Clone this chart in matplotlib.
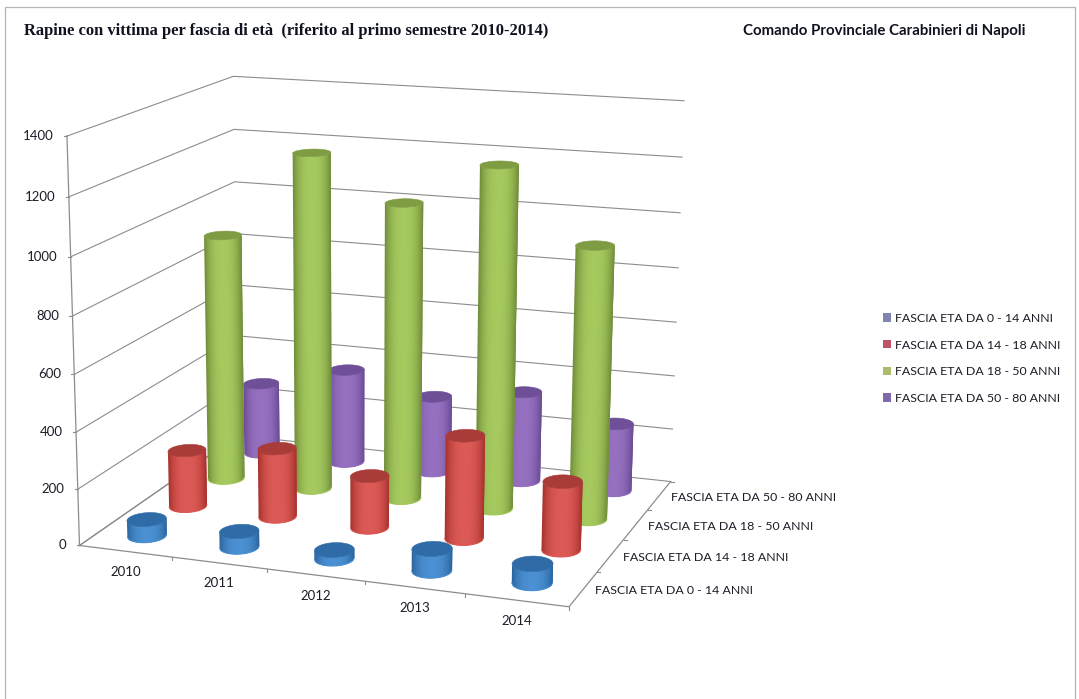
import numpy as np
import matplotlib
matplotlib.use("Agg")
import matplotlib.pyplot as plt
from matplotlib.collections import PolyCollection
from matplotlib.colors import to_rgb
from matplotlib.patches import Patch, Rectangle

plt.rcParams["path.simplify"] = False

# ---------------- data ----------------
years = ["2010", "2011", "2012", "2013", "2014"]
series_names = ["FASCIA ETA DA 0 - 14 ANNI", "FASCIA ETA DA 14 - 18 ANNI",
                "FASCIA ETA DA 18 - 50 ANNI", "FASCIA ETA DA 50 - 80 ANNI"]
fascia_0_14 = [58, 55, 30, 75, 65]
fascia_14_18 = [205, 248, 185, 365, 240]
fascia_18_50 = [910, 1230, 1075, 1230, 975]
fascia_50_80 = [270, 355, 285, 335, 250]
value_ticks = [0, 200, 400, 600, 800, 1000, 1200, 1400]
title_left = "Rapine con vittima per fascia di età  (riferito al primo semestre 2010-2014)"
title_right = "Comando Provinciale Carabinieri di Napoli"

all_series = [fascia_0_14, fascia_14_18, fascia_18_50, fascia_50_80]
# (rim, centre, top) shades per series
shades = [("#2a639c", "#4a90d2", "#2f6ba6"),
          ("#a5302c", "#dc5a55", "#a93c38"),
          ("#6f8b38", "#a5c95e", "#7f9c42"),
          ("#684a92", "#9670c0", "#6e4f98")]
legend_colors = ["#7f84b0", "#c25069", "#aabb6c", "#7e69a9"]
GRID = "#8c8c8c"
VMAX = value_ticks[-1]

# ---------------- projection: (year pos, series pos, value share) -> canvas ----------------
anchors = [
    (0, 0, 0, 80, 546), (0, 0, 1/7, 77.5, 488), (0, 0, 2/7, 76, 432), (0, 0, 3/7, 74, 374),
    (0, 0, 4/7, 73, 315), (0, 0, 5/7, 71, 257), (0, 0, 6/7, 69, 197), (0, 0, 1, 66, 137),
    (5, 0, 0, 569, 608),
    (5, 4, 0, 671, 481), (5, 4, 1/7, 672, 428), (5, 4, 2/7, 673, 375), (5, 4, 3/7, 677, 323),
    (5, 4, 4/7, 678, 268), (5, 4, 5/7, 681, 213), (5, 4, 6/7, 683, 157), (5, 4, 1, 683, 101),
    (0, 4, 1, 234, 76), (0, 4, 6/7, 234, 129), (0, 4, 5/7, 234, 182), (0, 4, 0, 238, 437),
]
A, b = [], []
for u, v, w, x, y in anchors:
    A.append([u, v, w, 1, 0, 0, 0, 0, -x*u, -x*v, -x*w]); b.append(x)
    A.append([0, 0, 0, 0, u, v, w, 1, -y*u, -y*v, -y*w]); b.append(y)
sol = np.linalg.lstsq(np.array(A, float), np.array(b, float), rcond=None)[0]
P = np.append(sol, 1.0).reshape(3, 4)


def proj(u, v, value):
    u, v, w = np.broadcast_arrays(np.asarray(u, float), np.asarray(v, float),
                                  np.asarray(value, float) / VMAX)
    q = np.stack([u, v, w, np.ones_like(u)], axis=-1) @ P.T
    return q[..., 0] / q[..., 2], q[..., 1] / q[..., 2]


# ---------------- canvas ----------------
fig = plt.figure(figsize=(10.79, 6.99), dpi=100, facecolor="white")
ax = fig.add_axes([0, 0, 1, 1])
ax.axis("off")
FONT = "Lato"
TXT = "#1c1c28"

ax.add_patch(Rectangle((5, 7), 1070, 720, fc="white", ec="#b4b4b4", lw=0.9, zorder=0))

# walls and floor
for tick in value_ticks:
    x, y = proj([0, 0, 5], [0, 4, 4], tick)
    ax.plot(x, y, color=GRID, lw=0.8, zorder=1)
    tx, ty = proj(0, 0, tick)
    ax.plot([tx - 3, tx], [ty, ty], color=GRID, lw=0.8, zorder=1)
    ax.text(tx - 13.5, ty, str(tick), ha="right", va="center", fontsize=9.5,
            family=FONT, color=TXT)
x, y = proj([0, 0], [0, 0], [0, VMAX]); ax.plot(x, y, color=GRID, lw=0.9, zorder=1)
x, y = proj([0, 5, 5], [0, 0, 4], 0); ax.plot(x, y, color=GRID, lw=0.9, zorder=1)
x, y = proj([0, 0], [0, 4], 0); ax.plot(x, y, color=GRID, lw=0.9, zorder=1)

for i, yr in enumerate(years):
    tx, ty = proj(i + 1, 0, 0)
    ax.plot([tx, tx], [ty, ty + 3], color=GRID, lw=0.8, zorder=1)
    lx, ly = proj(i + 0.5, 0, 0)
    ax.text(lx, ly + 20.5, yr, ha="center", va="center", fontsize=9.5, family=FONT, color=TXT)
for j, name in enumerate(series_names):
    tx, ty = proj(5, j + 1, 0)
    ax.plot([tx, tx + 3], [ty, ty], color=GRID, lw=0.8, zorder=1)
    lx, ly = proj(5, j + 0.5, 0)
    ax.text(lx + 12, ly + 2, name, ha="left", va="center", fontsize=8.9, family=FONT, color=TXT)

# cylinders, back row first
R_U, R_V = 0.19, 0.22
theta = np.linspace(0, 2 * np.pi, 361)[:-1]
STRIPS = 40
z = 2
for j in range(len(all_series) - 1, -1, -1):
    rim, centre, top_c = [np.array(to_rgb(c)) for c in shades[j]]
    for i, val in enumerate(all_series[j]):
        us = i + 0.5 + R_U * np.cos(theta)
        vs = j + 0.5 + R_V * np.sin(theta)
        xb, yb = proj(us, vs, 0)
        xt, yt = proj(us, vs, val)
        il, ir = int(np.argmin(xb)), int(np.argmax(xb))
        n = len(theta)
        arc1 = (il + np.arange((ir - il) % n + 1)) % n
        arc2 = (il - np.arange((il - ir) % n + 1)) % n
        arc = arc1 if yb[arc1].mean() > yb[arc2].mean() else arc2
        # evenly spaced across the width; each band overlaps the next, which paints
        # over it, so no background can show between bands
        xs = np.linspace(xb[il], xb[ir], STRIPS + 1)
        pos = np.arange(len(arc))
        idx = np.interp(xs, xb[arc], pos)
        bx, by = xs, np.interp(idx, pos, yb[arc])
        tx, ty = np.interp(idx, pos, xt[arc]), np.interp(idx, pos, yt[arc])
        xc, half = 0.5 * (xb[il] + xb[ir]), 0.5 * (xb[ir] - xb[il])
        polys, cols = [], []
        for k in range(STRIPS):
            e = min(k + 4, STRIPS + 1)
            polys.append(list(zip(bx[k:e], by[k:e])) + list(zip(tx[k:e][::-1], ty[k:e][::-1])))
            t = abs(0.5 * (bx[k] + bx[k + 1]) - xc) / half
            cols.append(rim + (centre - rim) * (1 - t ** 2.6))
        side = PolyCollection(polys, facecolors=cols, edgecolors="none", linewidths=0, zorder=z)
        side.set_snap(False)
        ax.add_collection(side)
        ax.plot(bx, by, color=centre, lw=0.7, zorder=z + 0.2, snap=False)
        ax.fill(xt, yt, color=top_c, lw=0.4, zorder=z + 0.5, snap=False)
        z += 1

# titles
ax.text(24, 31, title_left, ha="left", va="center", fontsize=11.9, family="Liberation Serif",
        weight="bold", color="#10131f")
ax.text(743, 31, title_right, ha="left", va="center", fontsize=10.8, family=FONT,
        weight="bold", color="#10131f")

# legend
handles = [Patch(fc=c, ec="none") for c in legend_colors]
leg = ax.legend(handles, series_names, loc="upper left", bbox_to_anchor=(883 / 1079, 1 - 313 / 699),
                frameon=False, prop={"family": FONT, "size": 8.9}, labelcolor=TXT,
                handlelength=0.68, handleheight=0.68, handletextpad=0.3, labelspacing=1.26,
                borderpad=0, borderaxespad=0)

ax.set_xlim(0, 1079)
ax.set_ylim(699, 0)
fig.savefig("out.png", dpi=100, facecolor="white")
